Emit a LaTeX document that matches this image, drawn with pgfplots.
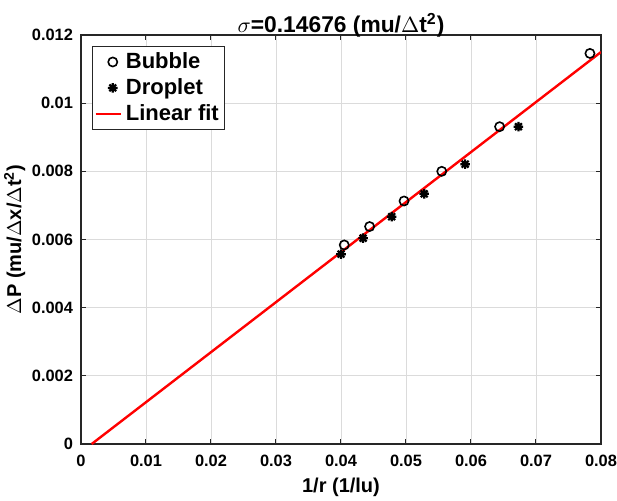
\documentclass[border=0pt]{standalone}
\usepackage{pgfplots}
\pgfplotsset{compat=1.18}
\usepackage{fontspec}
\setmainfont{Liberation Sans}
\pgfdeclareplotmark{mstar}{%
  \pgfpathmoveto{\pgfqpoint{-\pgfplotmarksize}{0pt}}\pgfpathlineto{\pgfqpoint{\pgfplotmarksize}{0pt}}%
  \pgfpathmoveto{\pgfqpoint{0pt}{-\pgfplotmarksize}}\pgfpathlineto{\pgfqpoint{0pt}{\pgfplotmarksize}}%
  \pgfpathmoveto{\pgfqpoint{-0.707\pgfplotmarksize}{-0.707\pgfplotmarksize}}\pgfpathlineto{\pgfqpoint{0.707\pgfplotmarksize}{0.707\pgfplotmarksize}}%
  \pgfpathmoveto{\pgfqpoint{-0.707\pgfplotmarksize}{0.707\pgfplotmarksize}}\pgfpathlineto{\pgfqpoint{0.707\pgfplotmarksize}{-0.707\pgfplotmarksize}}%
  \pgfusepathqstroke}
\definecolor{axgray}{gray}{0.15}
\definecolor{gridgray}{gray}{0.86}
\begin{document}
\begin{tikzpicture}
\begin{axis}[
  scale only axis,
  width=260pt, height=204.5pt,
  xmin=0, xmax=0.08, ymin=0, ymax=0.012,
  xtick={0,0.01,0.02,0.03,0.04,0.05,0.06,0.07,0.08},
  xticklabels={0,0.01,0.02,0.03,0.04,0.05,0.06,0.07,0.08},
  ytick={0,0.002,0.004,0.006,0.008,0.01,0.012},
  yticklabels={0,0.002,0.004,0.006,0.008,0.01,0.012},
  scaled ticks=false,
  tick align=inside,
  major tick length=2.5pt,
  tick style={axgray, line width=0.5pt},
  axis line style={axgray, line width=0.7pt},
  grid=major,
  grid style={gridgray, line width=0.4pt},
  tick label style={font=\bfseries\fontsize{8.2}{9}\selectfont, text=black},
  xticklabel style={yshift=-2pt},
  yticklabel style={xshift=-0.5pt},
  label style={font=\bfseries\fontsize{10}{12}\selectfont},
  xlabel={1/r (1/lu)},
  ylabel={$\Delta$P (mu/$\Delta$x/$\Delta$t$^{\mathbf{2}}$)},
  xlabel style={yshift=1pt},
  ylabel style={yshift=-3.5pt},
  title={$\sigma$=0.14676 (mu/$\Delta$t$^{\mathbf{2}}$)},
  title style={font=\bfseries\fontsize{11.4}{13}\selectfont, yshift=-10.5pt},
  legend style={at={(axis description cs:0,1)}, anchor=north west, xshift=5.5pt, yshift=-5.5pt,
    draw=axgray, line width=0.5pt, font=\bfseries\fontsize{11}{13}\selectfont,
    inner sep=1pt, row sep=-0.5pt},
  legend cell align=left,
]
\addplot[only marks, mark=o, mark size=2.3pt, black, line width=0.8pt] coordinates {
 (0.0405,0.00584) (0.0444,0.00638) (0.0497,0.00713) (0.0555,0.00800) (0.0644,0.00931) (0.0783,0.01146)
};
\addlegendentry{Bubble}
\addplot[only marks, mark=mstar, mark size=2.4pt, black, line width=1.1pt] coordinates {
 (0.0400,0.00557) (0.0434,0.00604) (0.0478,0.00667) (0.0528,0.00734) (0.0591,0.00821) (0.0673,0.00931)
};
\addlegendentry{Droplet}
\addplot[red, line width=1.2pt, no marks, legend image code/.code={\draw[red, line width=1.2pt] (0pt,0pt) -- (12.5pt,0pt);}] coordinates {
 (0.00164,0) (0.08,0.01150)
};
\addlegendentry{Linear fit}
\end{axis}
\pgfresetboundingbox
\path[use as bounding box] (-40.5pt,-28pt) rectangle (268pt,222pt);
\end{tikzpicture}
\end{document}
